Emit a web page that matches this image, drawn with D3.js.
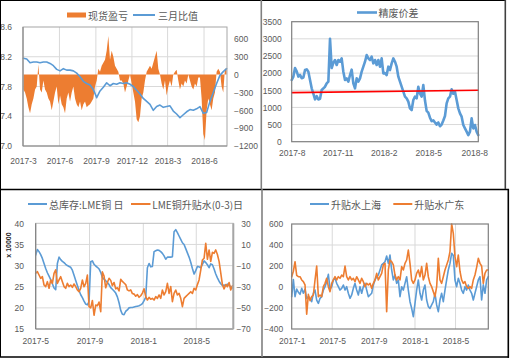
<!DOCTYPE html>
<html><head><meta charset="utf-8">
<script src="https://cdn.jsdelivr.net/npm/d3@7"></script>
<style>body{margin:0;background:#fff}svg{display:block}</style>
</head><body><svg id="c" width="513" height="362"></svg>
<script>
// ---------------- DATA ----------------
// Panel 1: 现货盈亏 (area, right axis) & 三月比值 (line, left axis)
const p1Range = ["2017-03-02", "2018-07-28"];
const p1XTicks = ["2017-03-01","2017-06-01","2017-09-01","2017-12-01","2018-03-01","2018-06-01"];
const p1LeftTicks = [7.0, 7.4, 7.8, 8.2, 8.6];
const p1RightTicks = [-1200, -900, -600, -300, 0, 300, 600];
const spotPnl = [-250,-300,-400,-550,-650,-500,-400,-250,-200,170,
 -250,-300,-100,-250,-300,-400,-450,-600,-450,-300,
 -200,-500,-350,-500,-550,-650,-400,-300,-450,-300,
 -200,-400,-500,-550,-450,-600,-500,-450,-550,-520,
 -500,-450,-400,-200,-100,100,50,150,200,250,
 400,650,250,400,300,150,100,50,-100,-100,
 -150,-300,-200,-100,0,-150,-300,-450,-750,-800,
 -700,-400,-300,-100,50,100,150,100,200,300,
 400,100,0,-150,-250,-100,-350,-200,-100,-200,
 0,50,80,-100,-250,-150,-200,-100,-150,0,
 -100,-200,-250,-150,-200,-50,-50,-400,-1000,-1100,
 -600,-400,-500,-600,-400,-300,50,100,50,-200,
 -300,100,100];
const ratio3m = [8.18,8.17,8.12,8.13,8.13,8.12,8.13,8.13,8.11,8.08,
 8.03,8.01,8.04,8.02,8.02,8.01,7.98,7.93,7.87,7.84,
 7.82,7.76,7.65,7.74,7.79,7.85,7.81,7.84,7.83,7.85,
 7.84,7.85,7.83,7.80,7.75,7.70,7.64,7.60,7.56,7.48,
 7.53,7.55,7.52,7.53,7.54,7.47,7.43,7.38,7.42,7.46,
 7.49,7.48,7.50,7.53,7.44,7.45,7.60,7.72,7.84,7.95,
 8.00,8.04];

// Panel 2: 精废价差
const p2Range = ["2017-08-01", "2018-08-09"];
const p2XTicks = ["2017-08-01","2017-11-01","2018-02-01","2018-05-01","2018-08-01"];
const p2YTicks = [0,500,1000,1500,2000,2500,3000,3500];
const scrapSpread = [1800,1900,2150,2050,1900,1950,1850,1870,2090,2110,
 2040,1800,1556,1400,1235,1330,1230,1250,1507,1556,
 1604,1701,1750,3000,2150,2300,2382,2236,2382,2333,
 2430,2042,1799,1847,1750,1944,2100,1700,1556,1847,
 1750,1847,2042,2188,2333,2528,2430,2382,2479,2285,
 2382,2236,2382,2188,2430,1993,2000,1944,2188,2090,
 2285,2430,2333,2188,1896,1750,1604,1458,1313,1264,
 1167,972,924,1215,1313,1264,1604,1400,1313,1653,
 1200,900,850,700,600,620,560,500,560,450,
 500,620,750,1118,1264,1313,1526,1400,1458,1215,
 972,826,729,486,389,292,194,292,681,389,
 486,292,194];
const spreadRef = [1430, 1500];

// Panel 3: 总库存:LME铜 日 (left, x10000) & LME铜升贴水(0-3)日 (right)
const p3Range = ["2017-05-02", "2018-07-22"];
const p3XTicks = ["2017-05-01","2017-09-01","2018-01-01","2018-05-01"];
const p3LeftTicks = [15,20,25,30,35,40];
const p3RightTicks = [-70,-50,-30,-10,10,30];
const lmeStock = [32.5,33.8,33.3,32.6,31.7,30.5,29.3,28.3,27.5,26.7,
 25.7,24.7,24.3,30.5,32.0,31.4,31.0,30.7,30.3,30.0,
 29.8,29.6,28.9,27.7,26.5,25.3,24.1,23.1,22.4,21.6,
 20.9,20.7,21.5,30.9,31.1,30.3,29.9,29.6,29.2,28.4,
 27.2,26.8,26.4,26.0,25.5,24.8,24.4,24.0,23.5,22.6,
 21.2,19.4,18.5,18.4,19.2,19.5,20.0,20.1,20.1,20.2,
 20.3,20.4,20.5,20.7,21.0,21.7,22.5,29.5,30.5,29.7,
 29.8,33.3,33.5,33.7,33.6,33.3,32.9,32.3,31.5,32.0,
 32.0,32.0,32.1,38.0,38.5,37.8,37.0,36.2,35.4,35.0,
 34.0,33.0,32.0,30.8,29.3,28.0,28.8,29.8,29.7,29.5,
 30.3,31.1,30.7,30.2,29.5,30.4,30.2,29.2,28.0,27.1,
 26.3,25.7,25.3,25.4,25.2,25.6,25.4,25.0,24.7];
const lmeSpread = [-17.3,-15.7,-18.9,-22.1,-20.5,-28.4,-29.9,-25.2,-31.5,-23.6,
 -26.8,-17.3,-14.0,-26.8,-23.6,-20.5,-25.2,-29.9,-31.5,-26.8,
 -29.9,-28.4,-30.6,-27.4,-29.9,-33.1,-34.7,-31.5,-23.6,-30.0,
 -26.8,-19.0,-48.9,-50.0,-43.0,-57.0,-47.3,-48.0,-44.5,-53.6,
 -16.0,-20.0,-31.0,-26.0,-22.0,-24.0,-29.0,-26.0,-32.0,-31.0,
 -34.0,-23.0,-25.0,-26.5,-28.0,-33.0,-34.0,-33.0,-36.5,-37.0,
 -39.0,-37.5,-40.0,-38.5,-36.0,-32.0,-39.4,-42.6,-40.1,-41.9,
 -41.0,-42.6,-39.4,-41.0,-37.8,-41.0,-33.1,-37.8,-34.7,-26.8,
 -36.3,-29.9,-44.1,-36.3,-33.1,-37.8,-36.3,-41.0,-48.9,-41.0,
 -39.4,-37.8,-36.3,-34.7,-36.3,-31.5,-33.1,-28.0,-23.6,-14.2,
 -4.7,-3.1,11.1,-4.0,4.8,-6.0,2.5,1.6,4.8,0.5,
 -6.0,-17.0,-28.0,-32.0,-28.0,-30.0,-26.0,-33.1,-29.0];

// Panel 4: 升贴水上海 & 升贴水广东
const p4Range = ["2017-01-01", "2018-08-06"];
const p4XTicks = ["2017-01-01","2017-05-01","2017-09-01","2018-01-01","2018-05-01"];
const p4YTicks = [-400,-200,0,200,400,600];
const premShanghai = [-92,70,-92,-20,-50,-70,-13,-60,-20,-110,
 -92,-108,-140,-60,-29,-124,-156,-108,-92,-29,
 3,51,120,-20,3,67,83,35,3,-29,
 -13,19,-29,3,-60,-108,-76,-13,35,-29,
 -76,3,-60,3,35,-29,-92,-76,-60,19,
 67,98,114,162,210,225,241,295,225,305,
 162,67,114,35,67,-92,3,-29,35,98,
 -29,-140,-203,-283,-156,-29,67,-60,-124,-29,
 19,-124,-187,-203,-171,-140,-60,-171,-235,-124,
 -60,-140,-29,67,162,225,321,300,67,3,
 83,35,-29,-60,3,-29,19,-29,-60,-124,
 -60,3,67,98,-124,20,-60,67,98];
const premGuangdong = [98,150,241,110,98,98,67,51,20,-260,
 -70,-130,-92,-76,67,200,-92,-76,-92,3,
 35,83,3,-44,35,67,98,67,98,83,
 114,98,200,98,67,98,67,83,51,98,
 67,35,83,51,3,35,19,35,-13,35,
 67,130,67,98,130,210,225,-235,162,257,
 241,210,114,67,98,67,194,162,225,257,
 352,225,67,35,67,130,162,98,194,67,
 114,225,98,35,3,-44,-92,3,273,67,
 35,98,162,210,257,337,600,510,289,194,
 305,150,67,35,51,3,-13,3,-13,67,
 114,187,273,225,200,35,130,162,162];

// ---------------- DRAW ----------------
const svg = d3.select("#c");
const BLUE = "#5b9bd5", ORANGE = "#ed7d31", TXT = "#595959", GRID = "#d9d9d9";
const F_LAT = '"Liberation Sans", Arial, sans-serif';
const F_CJK = '"Noto Sans CJK SC", sans-serif';
const parse = d3.timeParse("%Y-%m-%d");
const fmtMonth = d3.timeFormat("%Y-%-m");
function spread(vals, range) {
  const a = parse(range[0]), b = parse(range[1]);
  return vals.map((v, i) => ({ d: new Date(+a + (b - a) * i / (vals.length - 1)), v }));
}
function styleAxis(g, size) {
  g.select(".domain").remove();
  g.selectAll(".tick line").remove();
  g.attr("font-family", F_LAT).attr("font-size", size || 8.5);
  g.selectAll("text").attr("fill", TXT);
  return g;
}
function xAxis(x, ticks, y, pad) {
  styleAxis(svg.append("g").attr("transform", `translate(0,${y})`)
    .call(d3.axisBottom(x).tickValues(ticks.map(parse)).tickFormat(fmtMonth).tickSize(0).tickPadding(pad)));
}
function yAxisLeft(y, ticks, x0, pad, fmt) {
  styleAxis(svg.append("g").attr("transform", `translate(${x0},0)`)
    .call(d3.axisLeft(y).tickValues(ticks).tickFormat(fmt || d3.format("d")).tickSize(0).tickPadding(pad)));
}
function yAxisRight(y, ticks, x0, pad, anchor) {
  const g = styleAxis(svg.append("g").attr("transform", `translate(${x0},0)`)
    .call(d3.axisRight(y).tickValues(ticks).tickFormat(d3.format("d")).tickSize(0).tickPadding(pad)));
  if (anchor) g.selectAll("text").attr("text-anchor", anchor);
}
function hGrid(y, ticks, x0, x1) {
  svg.append("g").selectAll("line").data(ticks).join("line")
    .attr("x1", x0).attr("x2", x1).attr("y1", d => y(d)).attr("y2", d => y(d))
    .attr("stroke", GRID).attr("stroke-width", 1);
}
function vGrid(x, ticks, y0, y1) {
  svg.append("g").selectAll("line").data(ticks.map(parse)).join("line")
    .attr("x1", d => x(d)).attr("x2", d => x(d)).attr("y1", y0).attr("y2", y1)
    .attr("stroke", GRID).attr("stroke-width", 1);
}
function drawLine(data, x, y, color, w) {
  svg.append("path").datum(data)
    .attr("d", d3.line().x(d => x(d.d)).y(d => y(d.v)))
    .attr("fill", "none").attr("stroke", color).attr("stroke-width", w)
    .attr("stroke-linejoin", "round").attr("stroke-linecap", "round");
}
function legendText(x, y, t) {
  svg.append("text").attr("x", x).attr("y", y).attr("dominant-baseline", "central")
    .attr("font-family", F_CJK).attr("font-size", 10).attr("fill", TXT).text(t);
}
function legendLine(x0, x1, y, color, w) {
  svg.append("line").attr("x1", x0).attr("x2", x1).attr("y1", y).attr("y2", y)
    .attr("stroke", color).attr("stroke-width", w || 2);
}
function box(x0, y0, x1, y1, color, w) {
  svg.append("rect").attr("x", x0).attr("y", y0).attr("width", x1 - x0).attr("height", y1 - y0)
    .attr("fill", "none").attr("stroke", color).attr("stroke-width", w);
}

// ---- Panel 1 ----
{
  const L = 23, R = 227, T = 27, B = 146;
  const x = d3.scaleTime().domain([parse("2017-03-01"), parse("2018-07-29")]).range([L, R]);
  const yL = d3.scaleLinear().domain([7.0, 8.6]).range([B, T]);
  const yR = d3.scaleLinear().domain([-1200, 800]).range([B, T]);
  hGrid(yL, p1LeftTicks.slice(1, -1), L, R);
  vGrid(x, p1XTicks.slice(1), T, B);
  const pnl = spread(spotPnl, p1Range);
  svg.append("path").datum(pnl)
    .attr("d", d3.area().x(d => x(d.d)).y0(yR(0)).y1(d => yR(d.v)))
    .attr("fill", ORANGE);
  drawLine(spread(ratio3m, p1Range), x, yL, BLUE, 1.6);
  box(L, T, R, B, "#a6a6a6", 1);
  svg.append("line").attr("x1", L).attr("x2", L).attr("y1", T).attr("y2", B).attr("stroke", "#8c8c8c").attr("stroke-width", 1.2);
  svg.append("line").attr("x1", L).attr("x2", R).attr("y1", B).attr("y2", B).attr("stroke", "#8c8c8c").attr("stroke-width", 1.2);
  xAxis(x, p1XTicks, B, 12);
  yAxisLeft(yL, p1LeftTicks, L, 11, d3.format(".1f"));
  yAxisRight(yR, p1RightTicks, R, 7);
  svg.append("rect").attr("x", 67).attr("y", 12.5).attr("width", 19).attr("height", 5).attr("fill", ORANGE);
  legendText(88, 15, "现货盈亏");
  legendLine(133, 155, 15, BLUE, 2);
  legendText(158, 15, "三月比值");
}

// ---- Panel 2 ----
{
  const L = 291.7, R = 478.3, T = 21.7, B = 141.7;
  const x = d3.scaleTime().domain([parse("2017-08-01"), parse("2018-08-09")]).range([L, R]);
  const y = d3.scaleLinear().domain([0, 3500]).range([B, T]);
  hGrid(y, p2YTicks.slice(1, -1), L, R);
  drawLine(spread(scrapSpread, p2Range), x, y, BLUE, 2.6);
  drawLine(spread(spreadRef, p2Range), x, y, "#ff0000", 1.6);
  box(L, T, R, B, "#7f7f7f", 1.2);
  xAxis(x, p2XTicks, B, 8);
  yAxisLeft(y, p2YTicks, L, 10);
  legendLine(357, 377, 12.5, BLUE, 2.6);
  legendText(378.5, 12.5, "精废价差");
}

// ---- Panel 3 ----
{
  const L = 35.7, R = 233.3, T = 223.3, B = 329;
  const x = d3.scaleTime().domain([parse("2017-05-02"), parse("2018-07-24")]).range([L, R]);
  const yL = d3.scaleLinear().domain([15, 40]).range([B, T]);
  const yR = d3.scaleLinear().domain([-70, 30]).range([B, T]);
  hGrid(yL, p3LeftTicks.slice(1, -1), L, R);
  vGrid(x, p3XTicks.slice(1), T, B);
  drawLine(spread(lmeStock, p3Range), x, yL, BLUE, 1.6);
  drawLine(spread(lmeSpread, p3Range), x, yR, ORANGE, 1.6);
  box(L, T, R, B, "#bfbfbf", 1);
  svg.append("line").attr("x1", L).attr("x2", L).attr("y1", T).attr("y2", B).attr("stroke", "#7f7f7f").attr("stroke-width", 1.2);
  svg.append("line").attr("x1", L).attr("x2", R).attr("y1", B).attr("y2", B).attr("stroke", "#7f7f7f").attr("stroke-width", 1.2);
  svg.append("line").attr("x1", R).attr("x2", R).attr("y1", T).attr("y2", B).attr("stroke", "#a6a6a6").attr("stroke-width", 2);
  xAxis(x, p3XTicks, B, 8.6);
  yAxisLeft(yL, p3LeftTicks, L, 11.7);
  yAxisRight(yR, p3RightTicks, R, 17.5, "end");
  svg.append("text").attr("transform", "translate(10.5,245) rotate(-90)").attr("text-anchor", "middle")
    .attr("font-family", F_LAT).attr("font-size", 7).attr("font-weight", "bold").attr("fill", "#262626").text("x 10000");
  legendLine(28, 47, 204, BLUE, 2);
  legendText(49, 204, "总库存:LME铜 日");
  legendLine(131, 150.5, 204, ORANGE, 2);
  legendText(152.3, 204, "LME铜升贴水(0-3)日");
}

// ---- Panel 4 ----
{
  const L = 291.7, R = 488.3, T = 224, B = 329;
  const x = d3.scaleTime().domain([parse("2017-01-01"), parse("2018-08-06")]).range([L, R]);
  const y = d3.scaleLinear().domain([-400, 600]).range([B, T]);
  hGrid(y, p4YTicks.slice(1, -1), L, R);
  vGrid(x, p4XTicks.slice(1), T, B);
  drawLine(spread(premShanghai, p4Range), x, y, BLUE, 1.6);
  drawLine(spread(premGuangdong, p4Range), x, y, ORANGE, 1.6);
  box(L, T, R, B, "#7f7f7f", 1.2);
  xAxis(x, p4XTicks, B, 8.6);
  yAxisLeft(y, p4YTicks, L, 8.4);
  legendLine(310, 329, 204, BLUE, 2);
  legendText(331, 204, "升贴水上海");
  legendLine(393.3, 412.3, 204, ORANGE, 2);
  legendText(414.3, 204, "升贴水广东");
}

// ---- Frame / dividers ----
const frame = svg.append("g").attr("fill", "none");
frame.append("line").attr("x1", 0).attr("x2", 506).attr("y1", 0.5).attr("y2", 0.5).attr("stroke", "#000").attr("stroke-width", 1);
frame.append("line").attr("x1", 0.5).attr("x2", 0.5).attr("y1", 0).attr("y2", 357).attr("stroke", "#000").attr("stroke-width", 1);
frame.append("line").attr("x1", 0).attr("x2", 509).attr("y1", 357).attr("y2", 357).attr("stroke", "#000").attr("stroke-width", 1.7);
frame.append("line").attr("x1", 0).attr("x2", 509).attr("y1", 189.5).attr("y2", 189.5).attr("stroke", "#000").attr("stroke-width", 1.6);
frame.append("line").attr("x1", 261.3).attr("x2", 261.3).attr("y1", 0).attr("y2", 189).attr("stroke", "#808080").attr("stroke-width", 1.6);
frame.append("line").attr("x1", 262).attr("x2", 262).attr("y1", 189).attr("y2", 357).attr("stroke", "#808080").attr("stroke-width", 1.6);
frame.append("line").attr("x1", 505.3).attr("x2", 505.3).attr("y1", 0).attr("y2", 189).attr("stroke", "#404040").attr("stroke-width", 1.6);
frame.append("line").attr("x1", 508.3).attr("x2", 508.3).attr("y1", 189).attr("y2", 357.8).attr("stroke", "#000").attr("stroke-width", 1.6);
</script></body></html>
